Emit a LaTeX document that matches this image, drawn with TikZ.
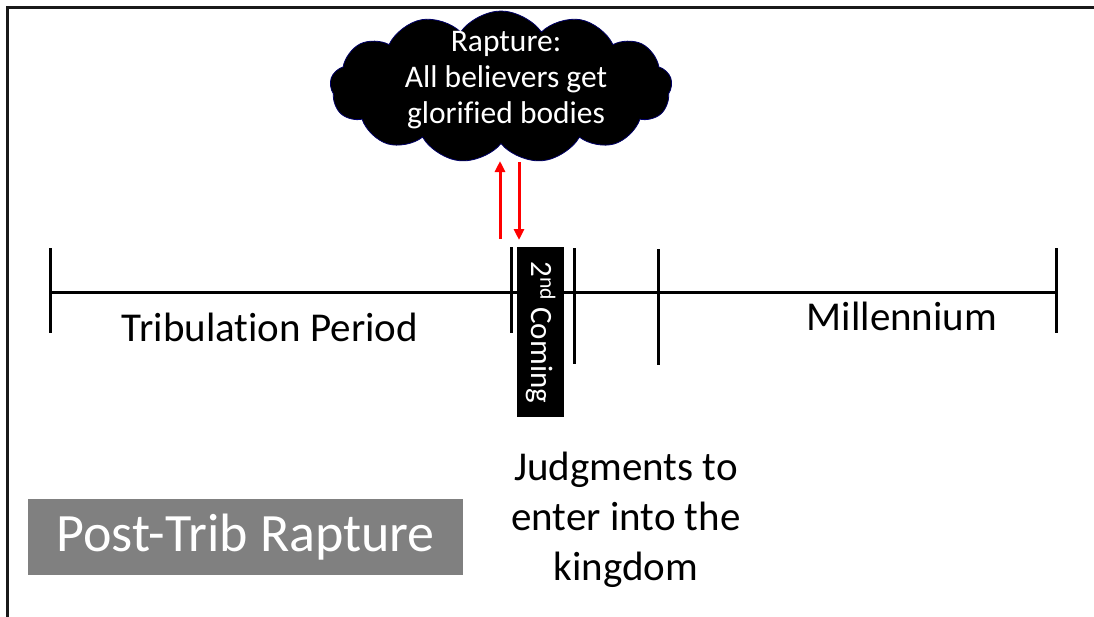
\documentclass[tikz,border=0pt]{standalone}
\usepackage{fontspec}
\setmainfont{Carlito}[Ligatures={NoCommon}]
\usetikzlibrary{shapes.symbols,arrows.meta}
\begin{document}
\begin{tikzpicture}[x=1pt,y=-1pt,
  tl/.style={line width=3pt,black},
  redarrow/.style={draw=red,line width=3pt,-{Triangle[length=11pt,width=10pt]}},
  lbl/.style={font=\fontsize{41}{50}\selectfont,align=center,inner sep=0pt}]
\useasboundingbox (0,0) rectangle (1094,616);
% frame (top and left only)
\draw[line width=3pt,black!90] (1110,7) -- (7,7) -- (7,630);
% cloud
\node[cloud, cloud puffs=13, cloud puff arc=110, aspect=2.3, fill=black, draw=black!60!blue,
      line width=0.8pt, minimum width=342pt, minimum height=152pt, inner sep=0pt] (cloud) at (501,87) {};
\node[text=white, align=center, font=\fontsize{31.5}{36}\selectfont, inner sep=0pt] (cloudtxt) at (506,80)
  {Rapture:\\All believers get\\glorified bodies};
% timeline
\coordinate (tlA) at (50,292);
\coordinate (tlB) at (1056,292);
\draw[tl] (tlA) -- (tlB);
\draw[tl] (50,248) -- (50,333);
\draw[tl] (1056,248) -- (1056,333);
\draw[tl] (511,247) -- (511,333);
\draw[tl] (574,248) -- (574,364);
\draw[tl] (658,249) -- (658,365);
% 2nd coming box
\node[fill=black, minimum width=47pt, minimum height=170pt, inner sep=0pt, anchor=north west] (coming) at (517,247) {};
\node[rotate=-90, text=white, font=\fontsize{31}{37}\selectfont, inner sep=0pt] (comingtxt) at (coming.center) {2\textsuperscript{nd} Coming};
% red arrows
\coordinate (upS) at (500,239);
\coordinate (upE) at (500,161);
\coordinate (dnS) at (519,162);
\coordinate (dnE) at (519,240);
\draw[redarrow] (upS) -- (upE);
\draw[redarrow] (dnS) -- (dnE);
% labels
\node[lbl] (trib) at (270,327) {Tribulation Period};
\node[lbl] (mill) at (902,316) {Millennium};
\node[lbl] (judg) at (626,520) {Judgments to\\enter into the\\kingdom};
% post-trib box
\node[fill=black!50, minimum width=435pt, minimum height=76pt, inner sep=0pt, anchor=north west] (post) at (28,499) {};
\node[text=white, font=\fontsize{54}{60}\selectfont, inner sep=0pt] (posttxt) at (post.center) {Post-Trib Rapture};
\end{tikzpicture}
\end{document}
